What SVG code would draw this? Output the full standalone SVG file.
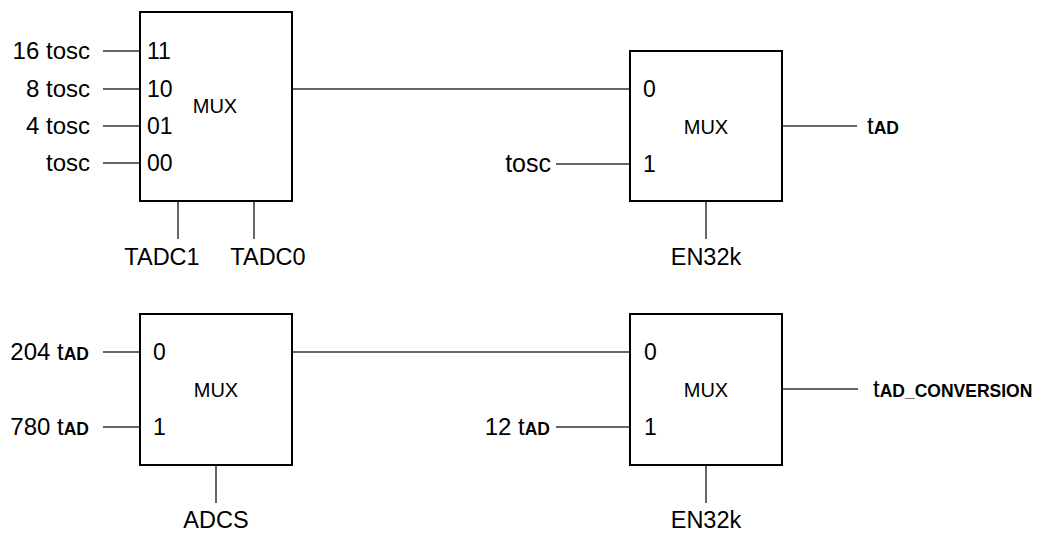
<svg xmlns="http://www.w3.org/2000/svg" width="1041" height="533" viewBox="0 0 1041 533">
<style>
.box{fill:#fff;stroke:#000;stroke-width:2}
.w{stroke:#333;stroke-width:1.5;fill:none}
text{font-family:"Liberation Sans",Arial,sans-serif;fill:#000}
.lb{font-size:24px}
.bt{font-size:23.5px;text-anchor:middle}
.pin{font-size:23px}
.mux{font-size:20px;text-anchor:middle}
.e{text-anchor:end}
.sub{font-weight:bold;font-size:17.5px}
</style>
<rect width="1041" height="533" fill="#fff"/>
<g id="connectors">
<line class="w" x1="103" y1="51" x2="140" y2="51"/>
<line class="w" x1="103" y1="89" x2="140" y2="89"/>
<line class="w" x1="103" y1="126" x2="140" y2="126"/>
<line class="w" x1="103" y1="163" x2="140" y2="163"/>
<line class="w" x1="178" y1="201" x2="178" y2="239"/>
<line class="w" x1="254" y1="201" x2="254" y2="239"/>
<line class="w" x1="292" y1="89" x2="630" y2="89"/>
<line class="w" x1="556" y1="164" x2="630" y2="164"/>
<line class="w" x1="782" y1="126" x2="857" y2="126"/>
<line class="w" x1="706" y1="201" x2="706" y2="239"/>
<line class="w" x1="103" y1="352" x2="140" y2="352"/>
<line class="w" x1="103" y1="427" x2="140" y2="427"/>
<line class="w" x1="216" y1="465" x2="216" y2="503"/>
<line class="w" x1="292" y1="352" x2="630" y2="352"/>
<line class="w" x1="556" y1="427" x2="630" y2="427"/>
<line class="w" x1="782" y1="389" x2="858" y2="389"/>
<line class="w" x1="706" y1="465" x2="706" y2="503"/>
</g>
<g id="mux1">
<rect class="box" x="140" y="12" width="152" height="189"/>
<text class="pin" x="147" y="59">11</text>
<text class="pin" x="147" y="97">10</text>
<text class="pin" x="147" y="134">01</text>
<text class="pin" x="147" y="171">00</text>
<text class="mux" x="215" y="113">MUX</text>
</g>
<g id="mux1-inputs">
<text class="lb e" x="90" y="59">16 tosc</text>
<text class="lb e" x="90" y="97">8 tosc</text>
<text class="lb e" x="90" y="134">4 tosc</text>
<text class="lb e" x="90" y="171">tosc</text>
<text class="bt" x="162" y="265">TADC1</text>
<text class="bt" x="268" y="265">TADC0</text>
</g>
<g id="mux2">
<rect class="box" x="630" y="51" width="152" height="150"/>
<text class="pin" x="643" y="97">0</text>
<text class="pin" x="643" y="172">1</text>
<text class="mux" x="706" y="134">MUX</text>
</g>
<g id="mux2-labels">
<text class="lb e" x="551" y="172" style="font-size:25px">tosc</text>
<text class="lb" x="867" y="134">t<tspan class="sub">AD</tspan></text>
<text class="bt" x="706" y="265">EN32k</text>
</g>
<g id="mux3">
<rect class="box" x="140" y="314" width="152" height="151"/>
<text class="pin" x="153" y="360">0</text>
<text class="pin" x="153" y="435">1</text>
<text class="mux" x="216" y="397">MUX</text>
</g>
<g id="mux3-labels">
<text class="lb e" x="89" y="360">204 t<tspan class="sub">AD</tspan></text>
<text class="lb e" x="89" y="435">780 t<tspan class="sub">AD</tspan></text>
<text class="bt" x="216" y="528">ADCS</text>
</g>
<g id="mux4">
<rect class="box" x="630" y="314" width="152" height="151"/>
<text class="pin" x="644" y="360">0</text>
<text class="pin" x="644" y="435">1</text>
<text class="mux" x="706" y="397">MUX</text>
</g>
<g id="mux4-labels">
<text class="lb e" x="550" y="435">12 t<tspan class="sub">AD</tspan></text>
<text class="lb" x="873" y="397">t<tspan class="sub">AD_CONVERSION</tspan></text>
<text class="bt" x="706" y="528">EN32k</text>
</g>
</svg>
